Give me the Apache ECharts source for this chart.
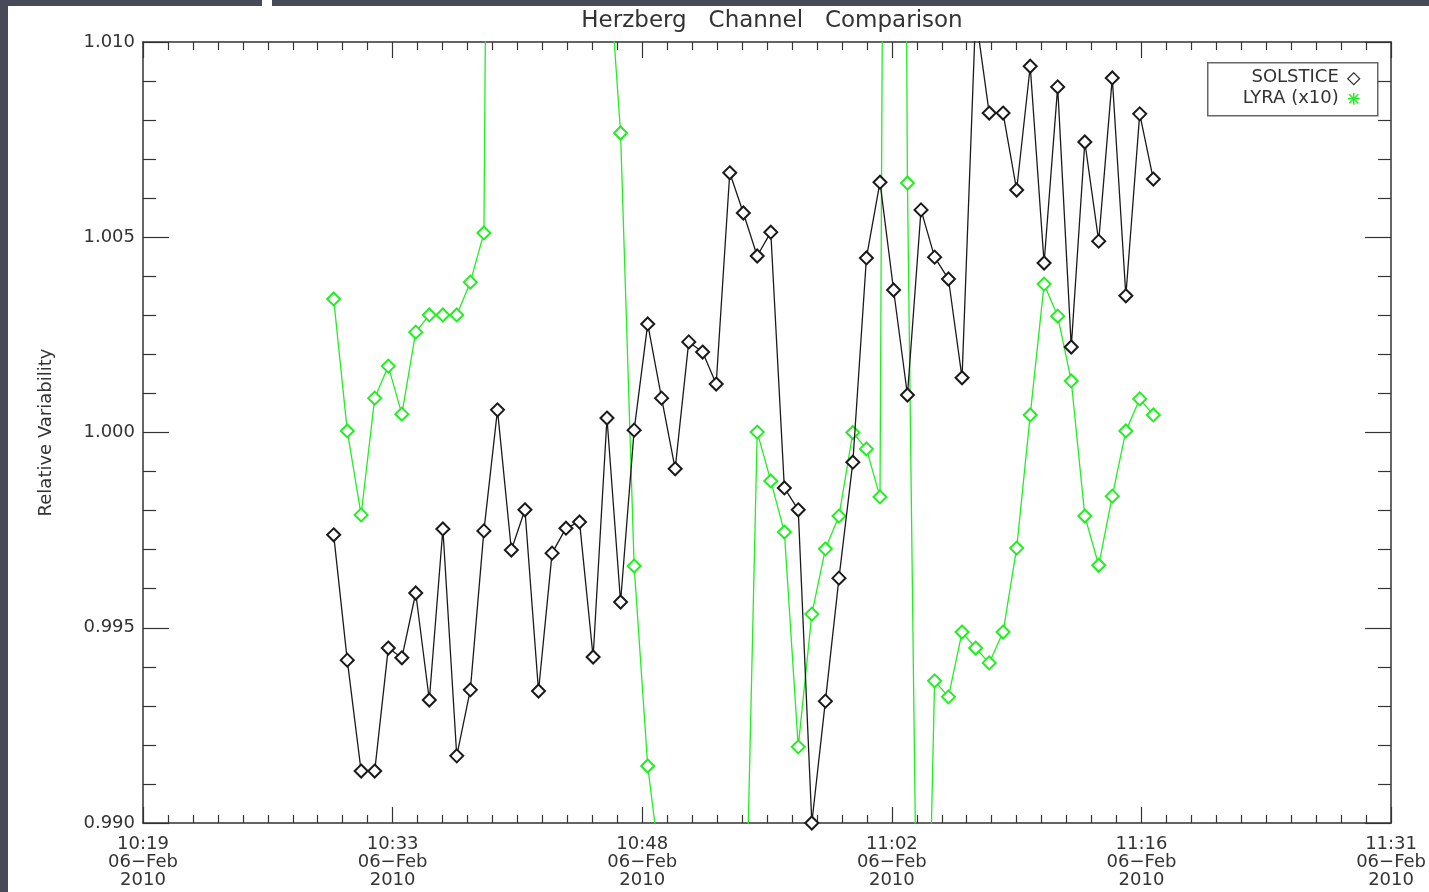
<!DOCTYPE html>
<html>
<head>
<meta charset="utf-8">
<script src="https://cdn.jsdelivr.net/npm/echarts@6/dist/echarts.min.js"></script>
<style>
html,body{margin:0;padding:0;background:#fff;}
#chart{width:1429px;height:892px;}
</style>
</head>
<body>
<div id="chart"></div>
<script>
// Sample times, seconds since midnight (06-Feb-2010)
const times = [37812,37859,37907,37954,38001,38048,38096,38143,38190,38238,
  38285,38332,38379,38427,38474,38521,38568,38616,38663,38710,
  38758,38805,38852,38899,38947,38994,39041,39089,39136,39183,
  39230,39278,39325,39372,39420,39467,39514,39561,39609,39656,
  39703,39750,39798,39845,39892,39940,39987,40034,40081,40129,
  40176,40223,40271,40318,40365,40412,40460,40507,40554,40602,40649];

const solstice = [0.99738,0.99417,0.99133,0.99133,0.99448,0.99423,0.99589,0.99315,0.99753,0.99172,
  0.99341,0.99748,1.00058,0.99699,0.99802,0.99338,0.99691,0.99755,0.99771,0.99425,
  1.00037,0.99566,1.00006,1.00278,1.00088,0.99907,1.00232,1.00206,1.00124,1.00665,
  1.00562,1.00452,1.00513,0.99858,0.99802,0.99000,0.99312,0.99627,0.99924,1.00447,
  1.00641,1.00365,1.00096,1.00570,1.00449,1.00393,1.00140,1.01070,1.00818,1.00818,
  1.00621,1.00938,1.00434,1.00885,1.00219,1.00744,1.00490,1.00908,1.00350,1.00816,1.00649];

const lyra = [1.00342,1.00004,0.99789,1.00088,1.00170,1.00047,1.00257,1.00301,1.00301,1.00301,
  1.00385,1.00511,1.05200,1.04700,1.05500,1.04900,1.05100,1.04600,1.05300,1.04400,
  1.01270,1.00767,0.99658,0.99146,0.98860,0.96200,0.95800,0.96500,0.96000,0.95700,
  0.98440,1.00001,0.99876,0.99745,0.99195,0.99535,0.99702,0.99786,1.00000,0.99958,
  0.99835,1.07000,1.00639,0.97800,0.99364,0.99323,0.99489,0.99448,0.99410,0.99489,
  0.99704,1.00045,1.00380,1.00298,1.00132,0.99786,0.99660,0.99837,1.00004,1.00086,1.00045];

const xTickLabels = ['10:19','10:33','10:48','11:02','11:16','11:31'];
const dateLine = '06\u2212Feb';
const yearLine = '2010';
const yTickLabels = ['0.990','0.995','1.000','1.005','1.010'];

const X_MIN = 37152, X_INT = 864, X_MAX = 41472;
const Y_MIN = 0.990, Y_INT = 0.005, Y_MAX = 1.010;

const FONT = 'DejaVu Sans';
const AXC = '#333';

const chart = echarts.init(document.getElementById('chart'), null, {renderer:'canvas'});

function xLabel(v){
  const i = Math.round((v - X_MIN)/X_INT);
  if (i < 0 || i >= xTickLabels.length) return '';
  return xTickLabels[i] + '\n' + dateLine + '\n' + yearLine;
}
function yLabel(v){
  const i = Math.round((v - Y_MIN)/Y_INT);
  return yTickLabels[i] || '';
}

const xBase = {
  type:'value', min:X_MIN, max:X_MAX, interval:X_INT,
  axisLine:{show:true, onZero:false, lineStyle:{color:AXC, width:1.5}},
  axisTick:{show:true, inside:true, length:16, lineStyle:{color:AXC, width:1.2}},
  minorTick:{show:true, splitNumber:10, length:8, lineStyle:{color:AXC, width:1.2}},
  splitLine:{show:false}, minorSplitLine:{show:false}
};
const yBase = {
  type:'value', min:Y_MIN, max:Y_MAX, interval:Y_INT,
  axisLine:{show:true, onZero:false, lineStyle:{color:AXC, width:1.5}},
  axisTick:{show:true, inside:true, length:26, lineStyle:{color:AXC, width:1.2}},
  minorTick:{show:true, splitNumber:5, length:13, lineStyle:{color:AXC, width:1.2}},
  splitLine:{show:false}, minorSplitLine:{show:false}
};

const option = {
  backgroundColor:'#ffffff',
  animation:false,
  title:{
    text:'Herzberg   Channel   Comparison',
    left:767, top:5, textAlign:'center',
    textStyle:{fontFamily:FONT, fontSize:23, fontWeight:'normal', color:'#333'}
  },
  grid:{left:143, top:42, width:1250, height:781, containLabel:false},
  xAxis:[
    Object.assign({}, xBase, {position:'bottom',
      axisLabel:{show:true, formatter:xLabel, margin:12, fontFamily:FONT, fontSize:18,
        lineHeight:18, color:'#333', showMinLabel:true, showMaxLabel:true}}),
    Object.assign({}, xBase, {position:'top', axisLabel:{show:false}})
  ],
  yAxis:[
    Object.assign({}, yBase, {position:'left',
      name:'Relative Variability', nameLocation:'middle', nameRotate:90, nameGap:88,
      nameTextStyle:{fontFamily:FONT, fontSize:18, color:'#333'},
      axisLabel:{show:true, formatter:yLabel, margin:8, fontFamily:FONT, fontSize:18, color:'#333'}}),
    Object.assign({}, yBase, {position:'right', axisLabel:{show:false}})
  ],
  series:[
    {
      name:'LYRA (x10)', type:'line', xAxisIndex:0, yAxisIndex:0,
      data: times.map((t,i)=>[t, lyra[i]]),
      symbol:'emptyDiamond', symbolSize:[13,13], showAllSymbol:true,
      lineStyle:{color:'#22ee22', width:1.3},
      itemStyle:{color:'#22ee22', borderColor:'#22ee22', borderWidth:1.2},
      clip:true, z:2
    },
    {
      name:'SOLSTICE', type:'line', xAxisIndex:0, yAxisIndex:0,
      data: times.map((t,i)=>[t, solstice[i]]),
      symbol:'emptyDiamond', symbolSize:[13,13], showAllSymbol:true,
      lineStyle:{color:'#1a1a1a', width:1.3},
      itemStyle:{color:'#1a1a1a', borderColor:'#1a1a1a', borderWidth:1.2},
      clip:true, z:3
    }
  ],
  graphic:[
    {type:'rect', left:0, top:0, shape:{x:0,y:0,width:8,height:892}, style:{fill:'#474b57'}, z:100},
    {type:'rect', left:0, top:0, shape:{x:0,y:0,width:1429,height:6}, style:{fill:'#474b57'}, z:100},
    {type:'rect', left:262, top:0, shape:{x:0,y:0,width:10,height:6}, style:{fill:'#ffffff'}, z:101},
    {type:'group', left:1207, top:62, z:50, children:[
      {type:'rect', shape:{x:0,y:0,width:170,height:53}, style:{fill:'#fff', stroke:'#666', lineWidth:1.5}},
      {type:'text', x:131, y:15, style:{text:'SOLSTICE', fontFamily:FONT, fontSize:18, fill:'#333', textAlign:'right', textVerticalAlign:'middle'}},
      {type:'text', x:131, y:36, style:{text:'LYRA (x10)', fontFamily:FONT, fontSize:18, fill:'#333', textAlign:'right', textVerticalAlign:'middle'}},
      {type:'polygon', shape:{points:[[140,16],[146,10],[152,16],[146,22]]}, style:{fill:'none', stroke:'#333', lineWidth:1.2}},
      {type:'group', x:146, y:36, children:[
        {type:'line', shape:{x1:-6,y1:0,x2:6,y2:0}, style:{stroke:'#22ee22', lineWidth:1.5}},
        {type:'line', shape:{x1:0,y1:-6,x2:0,y2:6}, style:{stroke:'#22ee22', lineWidth:1.5}},
        {type:'line', shape:{x1:-4.5,y1:-4.5,x2:4.5,y2:4.5}, style:{stroke:'#22ee22', lineWidth:1.5}},
        {type:'line', shape:{x1:-4.5,y1:4.5,x2:4.5,y2:-4.5}, style:{stroke:'#22ee22', lineWidth:1.5}}
      ]}
    ]}
  ]
};
chart.setOption(option);
</script>
</body>
</html>
